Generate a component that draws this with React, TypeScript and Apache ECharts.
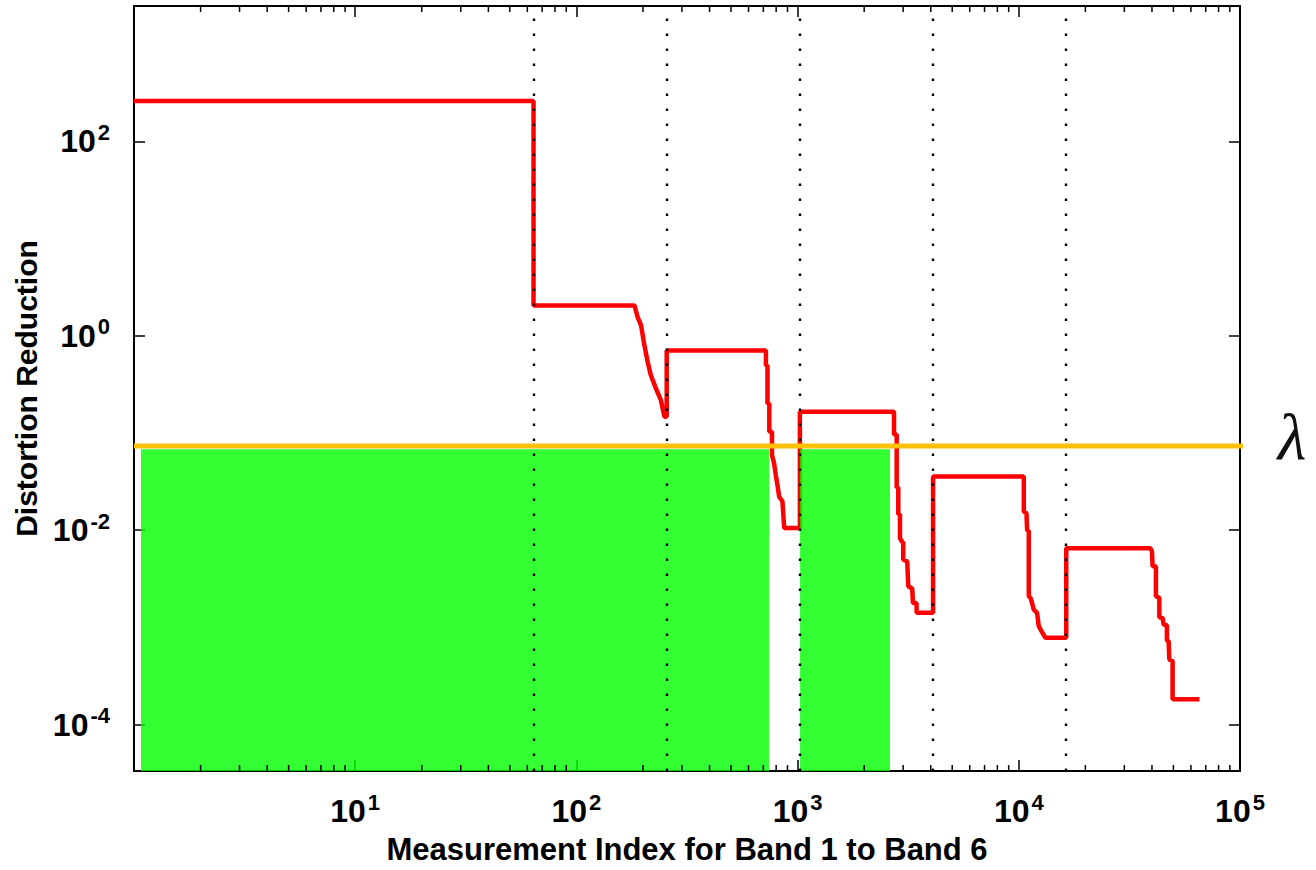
import React, { useEffect, useRef } from 'react';
import * as echarts from 'echarts';

// ---- data ----
const xRange = [1, 100000];
const yRange = [3.33e-5, 2466];
const bandEdges = [64, 256, 1024, 4096, 16384];

const band1Curve = [[1, 260], [64, 260]];
const band2Curve = [[64, 2.05], [183, 2.05], [189, 1.56], [196, 1.28], [203, 0.796], [210, 0.537], [217, 0.392], [229, 0.286], [241, 0.217], [250, 0.147], [256, 0.147]];
const band3Curve = [[256, 0.706], [719, 0.706], [719, 0.495], [731, 0.495], [731, 0.201], [745, 0.201], [745, 0.103], [766, 0.103], [766, 0.0592], [783, 0.0486], [797, 0.0369], [811, 0.0291], [825, 0.0222], [854, 0.0197], [870, 0.0105], [1024, 0.0105]];
const band4Curve = [[1024, 0.165], [2728, 0.165], [2728, 0.0966], [2805, 0.0966], [2805, 0.0274], [2852, 0.0274], [2852, 0.0146], [2903, 0.0146], [2903, 0.00828], [2972, 0.00753], [3003, 0.00753], [3003, 0.00496], [3131, 0.00478], [3164, 0.00265], [3298, 0.0025], [3322, 0.00178], [3451, 0.00178], [3451, 0.00141], [4096, 0.00141]];
const band5Curve = [[4096, 0.0356], [10534, 0.0356], [10534, 0.01556], [10834, 0.01494], [10902, 0.01007], [11096, 0.0097], [11096, 0.00209], [11293, 0.00201], [11482, 0.00178], [11687, 0.00152], [12093, 0.00141], [12310, 0.00103], [12660, 0.000914], [13198, 0.00078], [16384, 0.00078]];
const band6Curve = [[16384, 0.00653], [39330, 0.00653], [39990, 0.00605], [40270, 0.00425], [41680, 0.00425], [41680, 0.00209], [43180, 0.00201], [43180, 0.00127], [44680, 0.00125], [45150, 0.00107], [46720, 0.00105], [46720, 0.000733], [47560, 0.000722], [47910, 0.000468], [49580, 0.00045], [49580, 0.000182], [65536, 0.000182]];

const lambdaValue = 0.0733;
const lambdaSpan = [1, 105500];
const greenTop = 0.068;
const greenRanges = [[1.075, 744], [1026, 2616]];

const minorDecades = [1, 10, 100, 1000, 10000];
const minorMultipliers = [2, 3, 4, 5, 6, 7, 8, 9];

const xTitle = 'Measurement Index for Band 1 to Band 6';
const yTitle = 'Distortion Reduction';
const lambdaLabel = 'λ';

const FONT = '"Liberation Sans", Arial, Helvetica, sans-serif';

export default function App() {
  const ref = useRef<HTMLDivElement>(null);

  useEffect(() => {
    if (!ref.current) return;
    const chart = echarts.init(ref.current, null, { renderer: 'svg' });

    const curve = [...band1Curve, ...band2Curve, ...band3Curve, ...band4Curve, ...band5Curve, ...band6Curve];
    const minorTicks: number[][] = [];
    minorDecades.forEach((d) => minorMultipliers.forEach((m) => minorTicks.push([d * m, yRange[0]])));

    const rich = {
      b: { fontSize: 32, fontWeight: 'bold', fontFamily: FONT, lineHeight: 40, color: '#000' },
      s: { fontSize: 22, fontWeight: 'bold', fontFamily: FONT, lineHeight: 18, verticalAlign: 'top', color: '#000', padding: [0, 0, 0, 2] },
    };
    const fmt = (v: number) => `{b|10}{s|${Math.round(Math.log10(v))}}`;

    const axisLine = { show: true, onZero: false, lineStyle: { color: '#000', width: 2 } };
    const axisTick = { show: true, inside: true, length: 11, lineStyle: { color: '#000', width: 1.5 } };

    chart.setOption({
      animation: false,
      backgroundColor: '#fff',
      grid: { left: 134, right: 76, top: 6, bottom: 95, containLabel: false },
      xAxis: [
        {
          type: 'log', logBase: 10, min: xRange[0], max: xRange[1], position: 'bottom',
          axisLine, axisTick, splitLine: { show: false },
          axisLabel: { show: true, formatter: fmt, rich, margin: 20, showMinLabel: false },
          name: xTitle, nameLocation: 'middle', nameGap: 63,
          nameTextStyle: { fontSize: 31, fontWeight: 'bold', fontFamily: FONT, color: '#000' },
        },
        {
          type: 'log', logBase: 10, min: xRange[0], max: xRange[1], position: 'top',
          axisLine, axisTick, splitLine: { show: false }, axisLabel: { show: false },
        },
      ],
      yAxis: [
        {
          type: 'log', logBase: 100, min: yRange[0], max: yRange[1], position: 'left',
          axisLine, axisTick, splitLine: { show: false },
          axisLabel: { show: true, formatter: fmt, rich, margin: 24, showMinLabel: false, showMaxLabel: false },
          name: yTitle, nameLocation: 'middle', nameGap: 92,
          nameTextStyle: { fontSize: 30, fontWeight: 'bold', fontFamily: FONT, color: '#000' },
        },
        {
          type: 'log', logBase: 100, min: yRange[0], max: yRange[1], position: 'right',
          axisLine, axisTick, splitLine: { show: false }, axisLabel: { show: false },
        },
      ],
      series: [
        {
          name: 'distortion', type: 'line', data: curve, showSymbol: false, symbol: 'none', z: 1,
          lineStyle: { color: '#FF0000', width: 4.5 }, silent: true,
        },
        {
          name: 'bands', type: 'line', data: [], z: 2, silent: true,
          markLine: {
            silent: true, symbol: ['none', 'none'], label: { show: false },
            lineStyle: { color: '#000', width: 2.4, type: [2.4, 12.6] },
            data: bandEdges.map((v) => ({ xAxis: v })),
          },
        },
        {
          name: 'selected', type: 'custom', coordinateSystem: 'cartesian2d', z: 3, silent: true,
          data: greenRanges.map((r) => [r[0], r[1], greenTop]),
          encode: { x: [0, 1], y: 2 },
          renderItem: (params: any, api: any) => {
            const cs = params.coordSys;
            const p0 = api.coord([api.value(0), api.value(2)]);
            const p1 = api.coord([api.value(1), api.value(2)]);
            return {
              type: 'rect',
              shape: { x: p0[0], y: p0[1], width: p1[0] - p0[0], height: cs.y + cs.height - p0[1] },
              style: { fill: 'rgba(0,255,0,0.8)' },
            };
          },
        },
        {
          name: 'lambda', type: 'line', z: 4, silent: true, clip: false, showSymbol: false, symbol: 'none',
          data: lambdaSpan.map((x) => [x, lambdaValue]),
          lineStyle: { color: '#FFC000', width: 5 },
        },
        {
          name: 'minorTicks', type: 'custom', coordinateSystem: 'cartesian2d', z: 5, silent: true,
          data: minorTicks,
          renderItem: (params: any, api: any) => {
            const cs = params.coordSys;
            const x = api.coord([api.value(0), yRange[0]])[0];
            const top = cs.y;
            const bottom = cs.y + cs.height;
            return {
              type: 'group',
              children: [
                { type: 'line', shape: { x1: x, y1: bottom, x2: x, y2: bottom - 6 }, style: { stroke: '#000', lineWidth: 1.5 } },
                { type: 'line', shape: { x1: x, y1: top, x2: x, y2: top + 6 }, style: { stroke: '#000', lineWidth: 1.5 } },
              ],
            };
          },
        },
      ],
      graphic: [
        {
          type: 'text', x: 1292, y: 436,
          style: {
            text: lambdaLabel, font: 'italic 66px "Liberation Serif", "DejaVu Serif", serif',
            fill: '#111', align: 'center', verticalAlign: 'middle',
          },
        },
      ],
    });

    return () => chart.dispose();
  }, []);

  return <div ref={ref} style={{ position: 'fixed', left: 0, top: 0, width: 1316, height: 870 }} />;
}
